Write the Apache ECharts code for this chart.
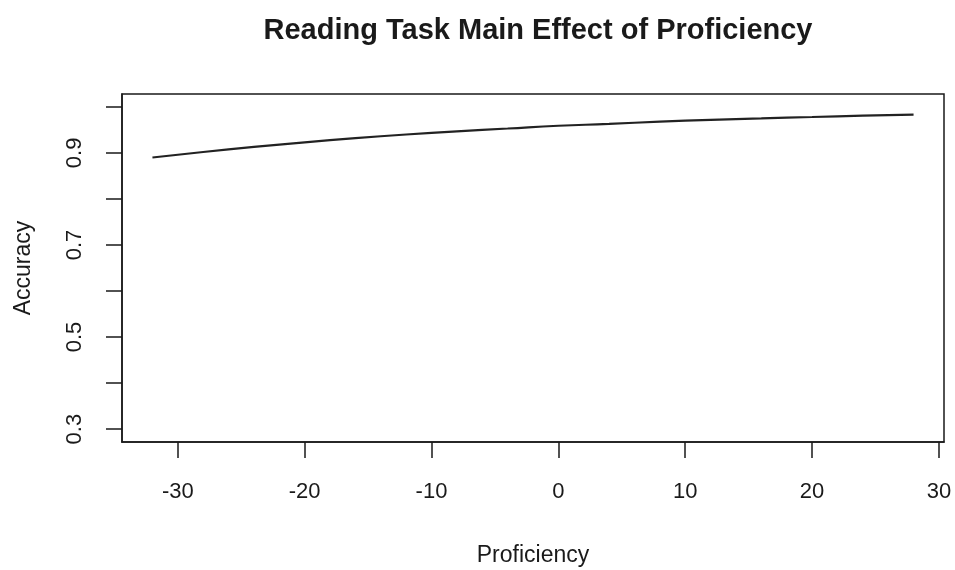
<!DOCTYPE html>
<html>
<head>
<meta charset="utf-8">
<script src="https://cdn.jsdelivr.net/npm/echarts@6/dist/echarts.min.js"></script>
<style>
  html, body { margin: 0; padding: 0; background: #fff; }
  #chart { width: 955px; height: 570px; }
</style>
</head>
<body>
<div id="chart"></div>
<script>
// Predicted accuracy across proficiency (centred scores)
const proficiency = [-32, -28, -24, -20, -16, -12, -8, -4, 0, 4, 8, 12, 16, 20, 24, 28];
const accuracy = [0.890, 0.902, 0.913, 0.923, 0.932, 0.940, 0.947, 0.953, 0.959, 0.963, 0.968, 0.972, 0.975, 0.978, 0.981, 0.983];

// Axis ticks and labels
const xTicks = [-30, -20, -10, 0, 10, 20, 30];
const yTicks = [0.3, 0.4, 0.5, 0.6, 0.7, 0.8, 0.9, 1.0];
const yLabels = [0.3, 0.5, 0.7, 0.9];

const FONT = 'Liberation Sans, Arial, sans-serif';
const INK = '#1a1a1a';

const chart = echarts.init(document.getElementById('chart'), null, { renderer: 'canvas' });

chart.setOption({
  animation: false,
  backgroundColor: '#ffffff',
  title: {
    text: 'Reading Task Main Effect of Proficiency',
    left: 533,
    textAlign: 'center',
    top: 11,
    textStyle: { fontFamily: FONT, fontSize: 29, fontWeight: 'bold', color: INK }
  },
  grid: {
    left: 122, right: 11, top: 94, bottom: 128,
    outerBoundsMode: 'none',
    containLabel: false,
    show: true,
    borderColor: INK,
    borderWidth: 1.5,
    backgroundColor: 'transparent'
  },
  xAxis: {
    type: 'value',
    min: -34.4,
    max: 30.4,
    name: 'Proficiency',
    nameLocation: 'middle',
    nameGap: 102,
    nameTextStyle: { fontFamily: FONT, fontSize: 23, color: INK },
    axisLine: { show: true, onZero: false, lineStyle: { color: INK, width: 1.5 } },
    axisTick: { show: true, inside: false, length: 16, customValues: xTicks, lineStyle: { color: INK, width: 1.5 } },
    axisLabel: { customValues: xTicks, margin: 39, fontFamily: FONT, fontSize: 22, color: INK, showMinLabel: true, showMaxLabel: true },
    splitLine: { show: false }
  },
  yAxis: {
    type: 'value',
    min: 0.272,
    max: 1.028,
    name: 'Accuracy',
    nameLocation: 'middle',
    nameGap: 87,
    nameRotate: 90,
    nameTextStyle: { fontFamily: FONT, fontSize: 23, color: INK },
    axisLine: { show: true, onZero: false, lineStyle: { color: INK, width: 1.5 } },
    axisTick: { show: true, inside: false, length: 16, customValues: yTicks, lineStyle: { color: INK, width: 1.5 } },
    axisLabel: {
      customValues: yLabels,
      rotate: 90,
      margin: 36,
      fontFamily: FONT, fontSize: 22, color: INK,
      formatter: v => v.toFixed(1)
    },
    splitLine: { show: false }
  },
  series: [{
    type: 'line',
    data: proficiency.map((p, i) => [p, accuracy[i]]),
    showSymbol: false,
    smooth: true,
    lineStyle: { color: '#222', width: 2.2 },
    silent: true
  }]
});
</script>
</body>
</html>
